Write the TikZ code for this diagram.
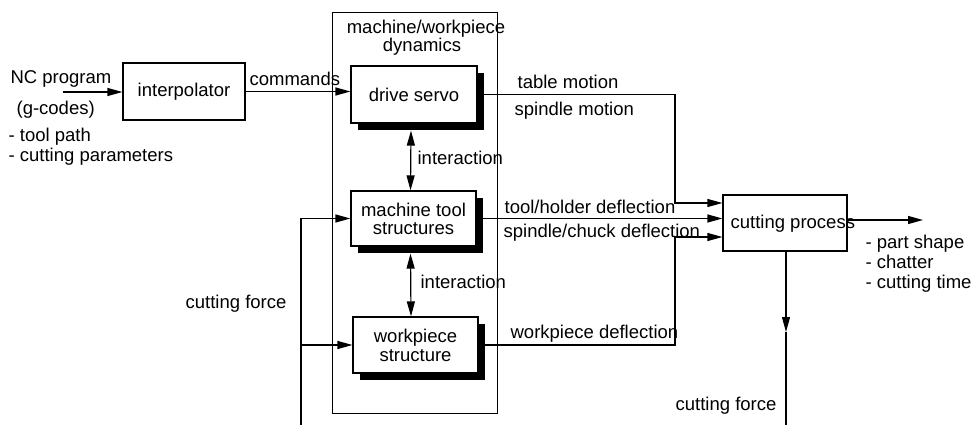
\documentclass[tikz,border=0pt]{standalone}
\usepackage{fontspec}
\setmainfont{Liberation Sans}
\usetikzlibrary{arrows.meta,shadows}
\begin{document}
\begin{tikzpicture}[x=1pt,y=-1pt,line width=1.2pt,
  every node/.style={font=\fontsize{18.5pt}{18pt}\selectfont,inner sep=0pt},
  blk/.style={draw,fill=white,align=center},
  shd/.style={blk,drop shadow={shadow xshift=7pt,shadow yshift=-7pt,fill=black,opacity=1}},
  arr/.style={-{Triangle[length=15pt,width=8pt]}},
  darr/.style={{Triangle[length=15pt,width=8pt]}-{Triangle[length=15pt,width=8pt]}},
  txt/.style={anchor=base west},
  txtr/.style={anchor=base east}]
\useasboundingbox (0,0) rectangle (973,425);

% machine/workpiece dynamics frame
\node[draw,anchor=north west,minimum width=165pt,minimum height=401pt] (dyn) at (332,12) {};
\node[anchor=base] (dyn1) at (426,34) {machine/workpiece};
\node[anchor=base] (dyn2) at (422,52) {dynamics};

% blocks
\node[blk,minimum width=122pt,minimum height=57pt] (ip) at (184,91.5) {interpolator};
\node[shd,minimum width=126pt,minimum height=57pt] (ds) at (414,94.5) {drive servo};
\node[shd,minimum width=125pt,minimum height=55pt] (mt) at (413.5,218.5) {machine tool\\structures};
\node[shd,minimum width=125pt,minimum height=56pt] (wp) at (415.5,345) {workpiece\\[1pt]structure};
\node[blk,minimum width=124pt,minimum height=56pt] (cp) at (785,223) {};
\node[txt] (cpt) at (730,228) {cutting process};

% free ends and bends
\coordinate (nc) at (63,92);
\coordinate (b1) at (675,203);
\coordinate (b2) at (675,237);
\coordinate (fl) at (301,425);
\coordinate (fm) at (786,332);
\coordinate (fr) at (786,425);
\coordinate (out) at (923,220);

% connectors
\draw[arr] (nc) -- (nc -| ip.west);
\draw[arr] (ip.east) -- (ip.east -| ds.west);
\draw[darr] ([xshift=-3pt,yshift=-7pt]ds.south) -- ([xshift=-3pt]mt.north);
\draw[darr] ([xshift=-3pt,yshift=-7pt]mt.south) -- ([xshift=-4.5pt]wp.north);
\draw[arr] (ds.east) -| (b1) -- (b1 -| cp.west);
\draw[arr] (mt.east) -- (mt.east -| cp.west);
\draw[arr] (wp.east) -| (b2) -- (b2 -| cp.west);
\draw[arr] (cp.east |- out) -- (out);
\draw[arr] (cp.south -| fm) -- (fm);
\draw (fm) -- (fr);
\draw[arr] (fl) |- (mt.west);
\draw[arr] (fl |- wp.west) -- (wp.west);

% labels
\node[txt] (l1) at (10,84) {NC program};
\node[txt] (l2) at (16,114) {(g-codes)};
\node[txt] (l3) at (8,141) {- tool path};
\node[txt] (l4) at (8,161) {- cutting parameters};
\node[txt] (lc) at (249,86) {commands};
\node[txt] (li1) at (417,164) {interaction};
\node[txt] (li2) at (420,288) {interaction};
\node[txt] (lt) at (517,89) {table motion};
\node[txt] (ls) at (514,115) {spindle motion};
\node[txt] (lth) at (504,213) {tool/holder deflection};
\node[txt] (lsc) at (503,237) {spindle/chuck deflection};
\node[txt] (lw) at (510,338) {workpiece deflection};
\node[txt] (o1) at (865,248) {- part shape};
\node[txt] (o2) at (865,268) {- chatter};
\node[txt] (o3) at (865,288) {- cutting time};
\node[txtr] (cf1) at (287,308) {cutting force};
\node[txtr] (cf2) at (777,410) {cutting force};
\end{tikzpicture}
\end{document}
